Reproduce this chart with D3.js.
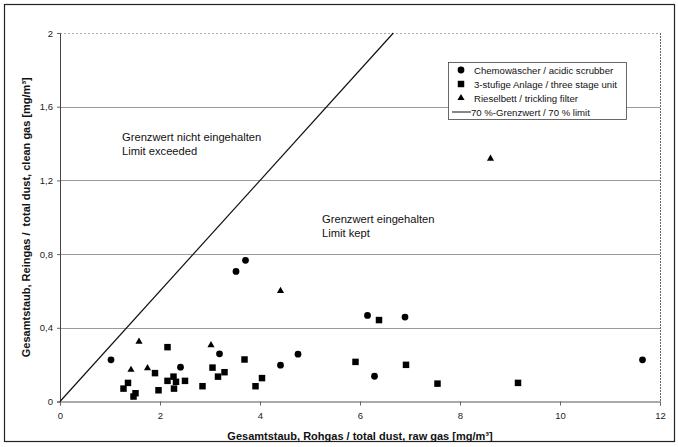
<!DOCTYPE html>
<html><head><meta charset="utf-8">
<script src="https://cdn.jsdelivr.net/npm/d3@7"></script>
<style>
html,body{margin:0;padding:0;background:#fff;}
svg text{font-family:"Liberation Sans",Arial,sans-serif;}
</style></head>
<body>
<svg id="c" width="678" height="447"></svg>
<script>
// Data
const scrubberX = [1.02, 3.19, 2.41, 4.41, 4.76, 6.15, 6.90, 6.29, 11.65, 3.52, 3.71];
const scrubberY = [0.226, 0.259, 0.186, 0.197, 0.257, 0.467, 0.458, 0.137, 0.226, 0.706, 0.766];
const stageX = [2.15, 3.69, 1.90, 3.05, 3.29, 3.16, 1.36, 2.27, 2.15, 2.32, 2.50, 1.27, 1.51, 1.47, 1.97, 2.28, 2.85, 4.04, 3.91, 6.38, 5.91, 6.92, 7.55, 9.16];
const stageY = [0.295, 0.228, 0.154, 0.184, 0.159, 0.135, 0.101, 0.135, 0.112, 0.107, 0.112, 0.070, 0.045, 0.027, 0.061, 0.070, 0.083, 0.127, 0.083, 0.442, 0.215, 0.199, 0.097, 0.101];
const filterX = [1.58, 3.02, 1.42, 1.75, 4.41, 8.61];
const filterY = [0.325, 0.306, 0.172, 0.181, 0.600, 1.318];
const limitFactor = 0.3;
const xTicks = [0, 2, 4, 6, 8, 10, 12];
const yTicks = [0, 0.4, 0.8, 1.2, 1.6, 2];
const seriesNames = ["Chemowäscher / acidic scrubber", "3-stufige Anlage / three stage unit", "Rieselbett / trickling filter", "70 %-Grenzwert / 70 % limit"];

const svg = d3.select("#c");
const L = 60, R = 660, T = 33, B = 401.5;
const x = d3.scaleLinear().domain([0, 12]).range([L, R]);
const y = d3.scaleLinear().domain([0, 2]).range([B, T]);

// outer frame
svg.append("rect").attr("x", 4.5).attr("y", 4.5).attr("width", 670).attr("height", 437)
  .attr("fill", "none").attr("stroke", "#222").attr("stroke-width", 1.2);

// gridlines
svg.append("g").selectAll("line").data(yTicks.filter(d => d > 0 && d < 2)).join("line")
  .attr("x1", L).attr("x2", R).attr("y1", d => Math.round(y(d)) + 0.5).attr("y2", d => Math.round(y(d)) + 0.5)
  .attr("stroke", "#9a9a9a").attr("stroke-width", 1);
// top border dotted
svg.append("line").attr("x1", L).attr("x2", R).attr("y1", Math.round(T) + 0.5).attr("y2", Math.round(T) + 0.5)
  .attr("stroke", "#aaa").attr("stroke-dasharray", "2,2");
// right border
svg.append("line").attr("x1", R + 0.5).attr("x2", R + 0.5).attr("y1", T).attr("y2", B)
  .attr("stroke", "#666").attr("stroke-dasharray", "2,1");

// axes
const yAxis = d3.axisLeft(y).tickValues(yTicks).tickSize(3).tickPadding(4)
  .tickFormat(d => d3.format("")(d).replace(".", ","));
const gy = svg.append("g").attr("transform", `translate(${L},0)`).call(yAxis);
gy.select(".domain").attr("stroke", "#444");
gy.selectAll(".tick line").attr("stroke", "#666");
gy.selectAll("text").attr("font-size", 9.5).attr("fill", "#222");

const xAxis = d3.axisBottom(x).tickValues(xTicks).tickSize(4).tickPadding(7).tickFormat(d3.format("d"));
const gx = svg.append("g").attr("transform", `translate(0,${B})`).call(xAxis);
gx.select(".domain").attr("stroke", "#555");
gx.selectAll(".tick line").attr("stroke", "#666");
gx.selectAll("text").attr("font-size", 9.5).attr("fill", "#222");

// limit line y = 0.3 x
const xEnd = 2 / limitFactor;
svg.append("line").attr("x1", x(0)).attr("y1", y(0)).attr("x2", x(xEnd)).attr("y2", y(limitFactor * xEnd))
  .attr("stroke", "#111").attr("stroke-width", 1.2);

// annotations
const ann = svg.append("g").attr("font-size", 11.2).attr("fill", "#111");
ann.append("text").attr("x", 122).attr("y", 140.5).text("Grenzwert nicht eingehalten");
ann.append("text").attr("x", 122).attr("y", 155).text("Limit exceeded");
ann.append("text").attr("x", 322).attr("y", 222.5).text("Grenzwert eingehalten");
ann.append("text").attr("x", 322).attr("y", 237).text("Limit kept");

// points
const sym = {
  circle: d3.symbol().type(d3.symbolCircle).size(36),
  square: d3.symbol().type(d3.symbolSquare).size(42),
  triangle: d3.symbol().type(d3.symbolTriangle).size(22)
};
function plot(xs, ys, s) {
  svg.append("g").selectAll("path").data(xs.map((v, i) => [v, ys[i]])).join("path")
    .attr("transform", d => `translate(${x(d[0])},${y(d[1])})`)
    .attr("d", sym[s]).attr("fill", "#000");
}
plot(scrubberX, scrubberY, "circle");
plot(stageX, stageY, "square");
plot(filterX, filterY, "triangle");

// legend
const lg = svg.append("g");
lg.append("rect").attr("x", 448.5).attr("y", 62.5).attr("width", 178).attr("height", 57)
  .attr("fill", "#fff").attr("stroke", "#444").attr("stroke-width", 0.8);
const rowsY = [70, 84, 98, 112];
const lsym = ["circle", "square", "triangle"];
lsym.forEach((s, i) => {
  lg.append("path").attr("transform", `translate(461,${rowsY[i]})`).attr("d", sym[s]).attr("fill", "#000");
});
lg.append("line").attr("x1", 452).attr("x2", 471).attr("y1", rowsY[3]).attr("y2", rowsY[3]).attr("stroke", "#111");
seriesNames.forEach((n, i) => {
  lg.append("text").attr("x", i < 3 ? 474 : 471).attr("y", rowsY[i] + 3.5).attr("font-size", 9.6).attr("fill", "#111").text(n);
});

// axis titles
svg.append("text").attr("x", (L + R) / 2).attr("y", 440).attr("text-anchor", "middle")
  .attr("font-size", 11).attr("font-weight", "bold").attr("fill", "#111")
  .text("Gesamtstaub, Rohgas / total dust, raw gas [mg/m³]");
svg.append("text").attr("transform", `translate(30,${(T + B) / 2}) rotate(-90)`).attr("text-anchor", "middle")
  .attr("font-size", 11).attr("font-weight", "bold").attr("fill", "#111")
  .attr("xml:space", "preserve").style("white-space", "pre")
  .text("Gesamtstaub, Reingas /  total dust, clean gas [mg/m³]");
</script>
</body></html>
